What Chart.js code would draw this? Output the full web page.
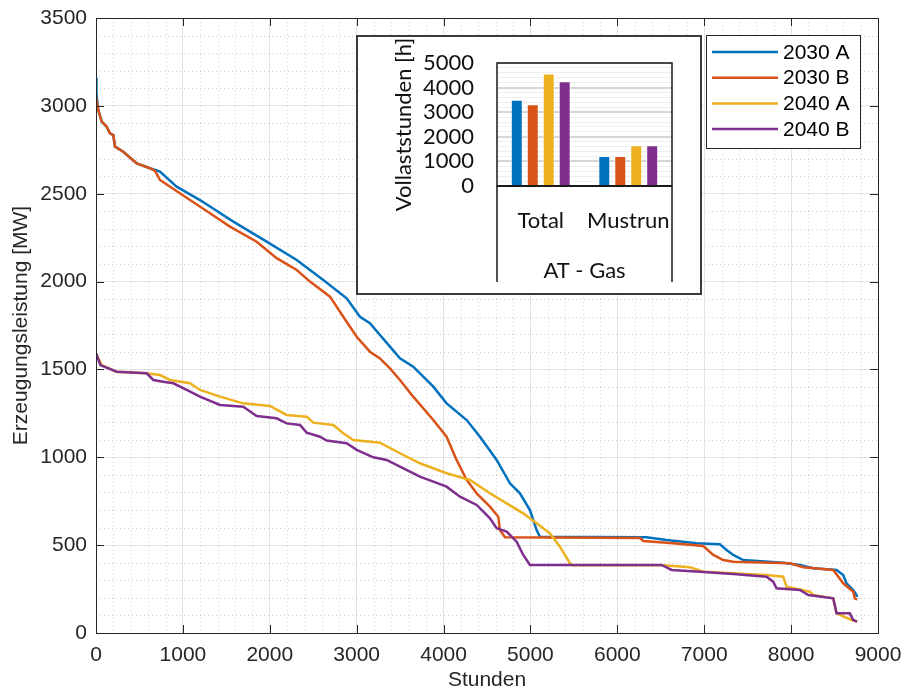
<!DOCTYPE html>
<html>
<head>
<meta charset="utf-8">
<title>Erzeugungsleistung AT - Gas</title>
<script src="https://cdn.jsdelivr.net/npm/chart.js@4.4.0/dist/chart.umd.min.js"></script>
<style>
  html, body { margin: 0; padding: 0; background: #fff; }
  #wrap { position: relative; width: 903px; height: 693px; }
  #inset {
    position: absolute; left: 356px; top: 35px; width: 346px; height: 260px;
    border: 2px solid #3a3a3a; box-sizing: border-box; background: #fff;
  }
  #inset canvas { display: block; }
</style>
</head>
<body>
<div id="wrap">
  <canvas id="mainChart" width="903" height="693"></canvas>
  <div id="inset"><canvas id="barChart" width="342" height="256"></canvas></div>
</div>
<script>
// Series names and colours
const seriesLabels = ['2030 A', '2030 B', '2040 A', '2040 B'];
const seriesColors = ['#0072BD', '#D95319', '#EDB120', '#7E2F8E'];

// Duration curves: [hour, MW]
const curve2030A = [
  [0, 3160], [5, 3070], [26, 2977], [66, 2910], [123, 2880], [161, 2844], [199, 2834], [219, 2768],
  [314, 2739], [468, 2673], [621, 2645], [736, 2626], [928, 2540], [1197, 2464], [1580, 2341],
  [1964, 2227], [2310, 2123], [2616, 2009], [2885, 1905], [3038, 1800], [3153, 1763], [3268, 1696],
  [3383, 1630], [3498, 1563], [3651, 1516], [3882, 1402], [4035, 1307], [4266, 1212], [4419, 1117],
  [4611, 985], [4764, 852], [4879, 795], [4994, 700], [5071, 586], [5109, 548], [6337, 545],
  [6567, 529], [6912, 511], [7181, 505], [7257, 472], [7334, 444], [7449, 415], [7909, 400],
  [8101, 387], [8254, 368], [8523, 359], [8600, 330], [8638, 283], [8715, 245], [8753, 216], [8760, 205]
];
const curve2030B = [
  [0, 3052], [26, 2977], [66, 2910], [123, 2882], [161, 2844], [199, 2834], [219, 2768], [314, 2739],
  [468, 2673], [621, 2645], [680, 2630], [736, 2578], [1082, 2464], [1312, 2389], [1542, 2313],
  [1849, 2227], [2079, 2133], [2310, 2066], [2463, 2000], [2693, 1914], [2846, 1800], [3000, 1686],
  [3153, 1601], [3268, 1563], [3383, 1506], [3498, 1440], [3651, 1345], [3882, 1212], [4035, 1117],
  [4150, 985], [4266, 871], [4381, 795], [4534, 719], [4630, 662], [4649, 586], [4707, 545],
  [6260, 540], [6298, 524], [6643, 511], [6989, 495], [7104, 444], [7219, 415], [7334, 406],
  [7986, 397], [8139, 374], [8485, 359], [8600, 283], [8715, 235], [8734, 197], [8760, 190]
];
const curve2040A = [
  [0, 1590], [8, 1582], [66, 1525], [238, 1487], [583, 1478], [736, 1468], [851, 1440], [1082, 1421],
  [1197, 1383], [1427, 1345], [1695, 1307], [2002, 1292], [2194, 1241], [2425, 1231], [2501, 1197],
  [2731, 1184], [2846, 1137], [2961, 1098], [3268, 1083], [3498, 1023], [3728, 966], [4035, 909],
  [4304, 871], [4534, 795], [4726, 738], [4917, 681], [5071, 624], [5224, 567], [5339, 491],
  [5454, 397], [5480, 385], [6528, 385], [6835, 374], [6912, 362], [6989, 349], [7717, 330],
  [7909, 320], [7948, 264], [8216, 235], [8254, 216], [8485, 197], [8523, 112], [8696, 74], [8760, 65]
];
const curve2040B = [
  [0, 1590], [8, 1582], [50, 1525], [238, 1487], [583, 1478], [660, 1440], [774, 1430], [890, 1421],
  [1044, 1383], [1197, 1345], [1427, 1298], [1695, 1288], [1849, 1235], [2079, 1222], [2194, 1193],
  [2348, 1184], [2425, 1140], [2578, 1117], [2655, 1095], [2885, 1080], [3000, 1042], [3191, 1000],
  [3345, 985], [3498, 947], [3728, 890], [4035, 833], [4189, 776], [4381, 729], [4534, 653],
  [4611, 596], [4726, 577], [4841, 520], [4917, 444], [4994, 387], [6509, 387], [6625, 359],
  [6950, 349], [7334, 336], [7717, 320], [7794, 292], [7832, 254], [8101, 245], [8197, 216],
  [8485, 197], [8523, 112], [8676, 112], [8715, 74], [8760, 65]
];
const curves = [curve2030A, curve2030B, curve2040A, curve2040B];

// Inset: full load hours per category
const barCategories = ['Total', 'Mustrun'];
const vlh2030A = [3510, 1224];
const vlh2030B = [3322, 1224];
const vlh2040A = [4571, 1661];
const vlh2040B = [4261, 1661];
const fullLoadHours = [vlh2030A, vlh2030B, vlh2040A, vlh2040B];

const axisFont = { family: '"Liberation Sans", Arial, sans-serif', size: 21 };
const axisColor = '#262626';
const insetFont = { family: 'Lato, "Open Sans", sans-serif', size: 22 };

// no overflow padding from edge labels, so the plot box sits where the layout says
const noEdgePadX = s => { s.paddingLeft = 0; s.paddingRight = 0; };
const noEdgePadY = s => { s.paddingTop = 0; s.paddingBottom = 0; };

// MATLAB style box, inward ticks and dotted minor grid
const axesFrame = {
  id: 'axesFrame',
  beforeDatasetsDraw(chart) {
    const { ctx, chartArea: a, scales: { x, y } } = chart;
    ctx.save();
    ctx.strokeStyle = '#cfcfcf';
    ctx.lineWidth = 1;
    ctx.setLineDash([1, 3]);
    ctx.beginPath();
    for (let v = 200; v < 9000; v += 200) {
      if (v % 1000 === 0) continue;
      const px = Math.round(x.getPixelForValue(v)) + 0.5;
      ctx.moveTo(px, a.top); ctx.lineTo(px, a.bottom);
    }
    for (let v = 100; v < 3500; v += 100) {
      if (v % 500 === 0) continue;
      const py = Math.round(y.getPixelForValue(v)) + 0.5;
      ctx.moveTo(a.left, py); ctx.lineTo(a.right, py);
    }
    ctx.stroke();
    ctx.restore();
  },
  afterDatasetsDraw(chart) {
    const { ctx, chartArea: a, scales: { x, y } } = chart;
    const len = 8;
    ctx.save();
    ctx.strokeStyle = axisColor;
    ctx.lineWidth = 1;
    ctx.beginPath();
    x.ticks.forEach(t => {
      const px = Math.round(x.getPixelForValue(t.value)) + 0.5;
      ctx.moveTo(px, a.bottom); ctx.lineTo(px, a.bottom - len);
      ctx.moveTo(px, a.top); ctx.lineTo(px, a.top + len);
    });
    y.ticks.forEach(t => {
      const py = Math.round(y.getPixelForValue(t.value)) + 0.5;
      ctx.moveTo(a.left, py); ctx.lineTo(a.left + len, py);
      ctx.moveTo(a.right, py); ctx.lineTo(a.right - len, py);
    });
    ctx.stroke();
    ctx.strokeRect(Math.round(a.left) + 0.5, Math.round(a.top) + 0.5,
      Math.round(a.right - a.left), Math.round(a.bottom - a.top));
    ctx.restore();
  }
};

// Legend box in the upper right corner
const cornerLegend = {
  id: 'cornerLegend',
  afterDraw(chart) {
    const { ctx } = chart;
    const bx = 706, by = 35, bw = 154, bh = 113;
    ctx.save();
    ctx.fillStyle = '#fff';
    ctx.fillRect(bx, by, bw, bh);
    ctx.strokeStyle = axisColor;
    ctx.lineWidth = 1;
    ctx.strokeRect(bx + 0.5, by + 0.5, bw, bh);
    ctx.font = `${axisFont.size}px ${axisFont.family}`;
    ctx.textBaseline = 'middle';
    ctx.textAlign = 'left';
    chart.data.datasets.forEach((ds, i) => {
      const ry = by + 17 + i * 25.7;
      ctx.strokeStyle = ds.borderColor;
      ctx.lineWidth = 2.5;
      ctx.beginPath();
      ctx.moveTo(712, ry); ctx.lineTo(778, ry);
      ctx.stroke();
      ctx.fillStyle = '#000';
      ctx.fillText(ds.label, 783, ry + 1);
    });
    ctx.restore();
  }
};

new Chart(document.getElementById('mainChart'), {
  type: 'line',
  data: {
    datasets: seriesLabels.map((label, i) => ({
      label,
      data: curves[i].map(p => ({ x: p[0], y: p[1] })),
      borderColor: seriesColors[i],
      backgroundColor: seriesColors[i],
      borderWidth: 2.5,
      pointRadius: 0,
      tension: 0,
      fill: false,
      order: 4 - i
    }))
  },
  options: {
    responsive: false,
    animation: false,
    layout: { padding: { top: 18, right: 25, left: 0, bottom: 0 } },
    plugins: { legend: { display: false }, tooltip: { enabled: false } },
    scales: {
      x: {
        type: 'linear', min: 0, max: 9000,
        ticks: { stepSize: 1000, padding: 10, font: axisFont, color: axisColor, maxRotation: 0, callback: v => String(v) },
        grid: { color: '#e2e2e2', drawTicks: false },
        border: { display: false },
        title: { display: true, text: 'Stunden', font: axisFont, color: axisColor, padding: { top: 0, bottom: 0 } },
        afterFit: s => { noEdgePadX(s); s.height = 60; }
      },
      y: {
        min: 0, max: 3500,
        ticks: { stepSize: 500, padding: 9, font: axisFont, color: axisColor, callback: v => String(v) },
        grid: { color: '#e2e2e2', drawTicks: false },
        border: { display: false },
        title: { display: true, text: 'Erzeugungsleistung [MW]', font: axisFont, color: axisColor, padding: { top: 9, bottom: 0 } },
        afterFit: s => { noEdgePadY(s); s.width = 96; }
      }
    }
  },
  plugins: [axesFrame, cornerLegend]
});

// Frame of the inset bar plot and the category separators
const barFrame = {
  id: 'barFrame',
  afterDatasetsDraw(chart) {
    const { ctx, chartArea: a } = chart;
    ctx.save();
    ctx.strokeStyle = '#1a1a1a';
    ctx.lineWidth = 1.5;
    ctx.strokeRect(a.left, a.top, a.right - a.left, a.bottom - a.top);
    ctx.lineWidth = 2;
    ctx.beginPath();
    ctx.moveTo(a.left, a.bottom); ctx.lineTo(a.right, a.bottom);
    ctx.stroke();
    ctx.lineWidth = 1.5;
    ctx.beginPath();
    ctx.moveTo(a.left, a.bottom); ctx.lineTo(a.left, a.bottom + 96);
    ctx.moveTo(a.right, a.bottom); ctx.lineTo(a.right, a.bottom + 96);
    ctx.stroke();
    ctx.restore();
  }
};

new Chart(document.getElementById('barChart'), {
  type: 'bar',
  data: {
    labels: barCategories,
    datasets: seriesLabels.map((label, i) => ({
      label,
      data: fullLoadHours[i],
      backgroundColor: seriesColors[i],
      borderColor: 'rgba(255,255,255,0.6)',
      borderWidth: 1,
      categoryPercentage: 0.73,
      barPercentage: 0.75
    }))
  },
  options: {
    responsive: false,
    animation: false,
    layout: { padding: { top: 26, right: 28, left: 0, bottom: 0 } },
    plugins: { legend: { display: false }, tooltip: { enabled: false } },
    scales: {
      x: {
        grid: { display: false, drawTicks: false },
        border: { display: false },
        ticks: { font: insetFont, color: '#111', padding: 22, maxRotation: 0, minRotation: 0, autoSkip: false },
        title: { display: true, text: 'AT - Gas', font: insetFont, color: '#111', padding: { top: 0, bottom: 9 } },
        afterFit: s => { noEdgePadX(s); s.height = 107; }
      },
      y: {
        min: 0, max: 5000,
        ticks: {
          stepSize: 200, autoSkip: false, padding: 23, font: insetFont, color: '#111',
          callback: v => (v % 1000 === 0 ? String(v) : '')
        },
        grid: {
          drawTicks: false,
          color: c => (c.tick.value % 1000 === 0 ? '#d6d6d6' : '#efefef'),
          lineWidth: c => (c.tick.value % 1000 === 0 ? 2 : 1)
        },
        border: { display: false },
        title: { display: true, text: 'Vollaststunden [h]', font: insetFont, color: '#111', padding: { top: 33, bottom: 0 } },
        afterFit: s => { noEdgePadY(s); s.width = 139; }
      }
    }
  },
  plugins: [barFrame]
});
</script>
</body>
</html>
